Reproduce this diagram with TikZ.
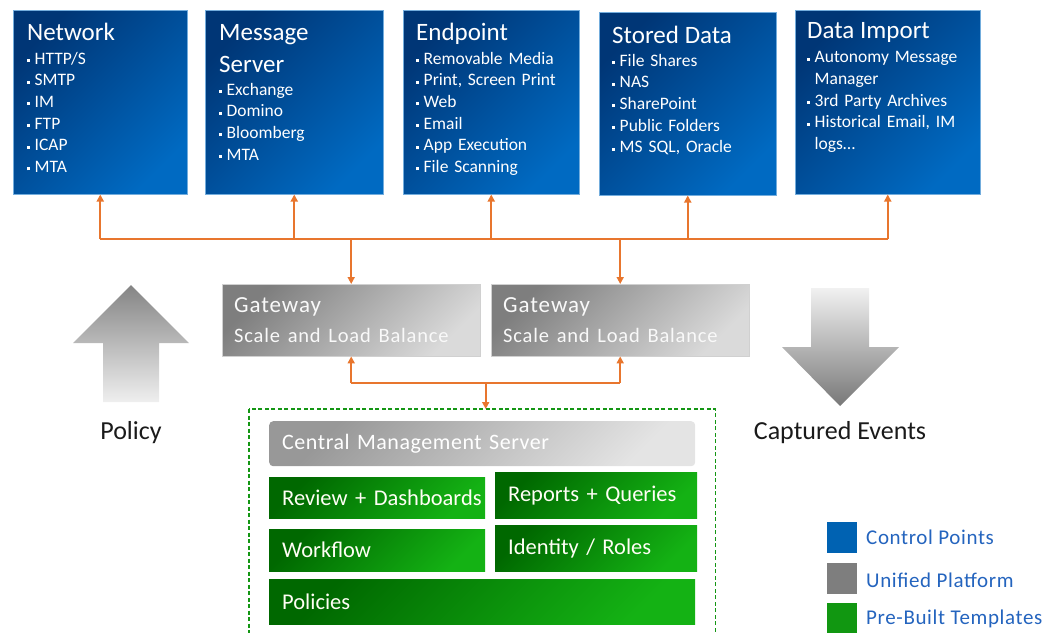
\documentclass[tikz,border=0pt]{standalone}
\usepackage{fontspec}
\setmainfont{Carlito}
\usepackage{tikz}
\usetikzlibrary{arrows.meta,calc,positioning}
\definecolor{cpdark}{RGB}{0,54,118}
\definecolor{cplight}{RGB}{0,106,194}
\definecolor{gydark}{RGB}{126,126,126}
\definecolor{gylight}{RGB}{228,228,228}
\definecolor{grdark}{RGB}{0,104,0}
\definecolor{grlight}{RGB}{20,178,20}
\definecolor{wire}{RGB}{232,118,46}
\definecolor{framegreen}{RGB}{20,150,20}
\definecolor{lgdtext}{RGB}{36,100,190}
\definecolor{captext}{RGB}{26,26,26}
\newcommand{\bul}{\rule[2.2pt]{3pt}{3pt}\hspace{4.5pt}}
\newcommand{\boxtitle}[1]{{\fontsize{25}{25}\selectfont #1}}
\tikzset{
  ctrl/.style={anchor=north west, inner sep=0pt, draw=cplight!55!white, line width=0.5pt,
    top color=cpdark, bottom color=cplight, shading angle=45},
  ctrltext/.style={anchor=base west, inner sep=0pt, text=white, align=left, text width=165pt,
    font=\fontsize{17.5}{21.7}\selectfont},
  gw/.style={anchor=north west, inner xsep=12pt, inner ysep=0pt, text width=234pt, align=left,
    top color=gydark, bottom color=gylight!90!gray, shading angle=45, draw=gylight!80!gray, line width=0.4pt,
    text=white!95!gray, font=\fontsize{23}{30}\selectfont\addfontfeature{LetterSpace=4}},
  cms/.style={anchor=north west, inner xsep=13pt, inner ysep=0pt, text width=400pt, align=left,
    rounded corners=4pt, top color=gydark!80!white, bottom color=gylight, shading angle=45,
    text=white, font=\fontsize{22}{26}\selectfont\addfontfeature{LetterSpace=2.5}},
  tpl/.style={anchor=north west, inner xsep=13pt, inner ysep=0pt, text width=#1, align=left,
    top color=grdark, bottom color=grlight, shading angle=45,
    text=white!96!yellow, font=\fontsize{22.5}{26}\selectfont},
  conn/.style={draw=wire, line width=1.8pt},
  tip/.style={-{Triangle[length=7pt,width=7pt]}},
  captn/.style={text=captext, font=\fontsize{26}{30}\selectfont},
  lgdbox/.style={minimum width=30pt, minimum height=31pt, inner sep=0pt},
  lgdlbl/.style={anchor=west, text=lgdtext, inner sep=0pt, font=\fontsize{21}{24}\selectfont\addfontfeature{LetterSpace=3}}
}
\begin{document}
\begin{tikzpicture}[x=1pt, y=-1pt]
  \useasboundingbox (0,0) rectangle (1051,632);

  % --- control points ---
  \node[ctrl, minimum width=174pt, minimum height=184pt] (net) at (13,10) {};
  \node[ctrltext] (net-t) at ([shift={(14,30)}]net.north west) {\boxtitle{Network}\\[2.3pt]
    \bul HTTP/S\\ \bul SMTP\\ \bul IM\\ \bul FTP\\ \bul ICAP\\ \bul MTA};

  \node[ctrl, minimum width=178pt, minimum height=184pt] (msg) at (205,10) {};
  \node[ctrltext] (msg-t) at ([shift={(14,30)}]msg.north west) {\boxtitle{Message\\[10.3pt] Server}\\[1.3pt]
    \bul Exchange\\ \bul Domino\\ \bul Bloomberg\\ \bul MTA};

  \node[ctrl, minimum width=176pt, minimum height=184pt] (endp) at (403,10) {};
  \node[ctrltext] (endp-t) at ([shift={(13,30)}]endp.north west) {\boxtitle{Endpoint}\\[2.3pt]
    \bul Removable Media\\ \bul Print, Screen Print\\ \bul Web\\ \bul Email\\ \bul App Execution\\ \bul File Scanning};

  \node[ctrl, minimum width=177pt, minimum height=183pt] (stor) at (599,12) {};
  \node[ctrltext] (stor-t) at ([shift={(13,31)}]stor.north west) {\boxtitle{Stored Data}\\[1.3pt]
    \bul File Shares\\ \bul NAS\\ \bul SharePoint\\ \bul Public Folders\\ \bul MS SQL, Oracle};

  \node[ctrl, minimum width=185pt, minimum height=184pt] (imp) at (795,10) {};
  \node[ctrltext] (imp-t) at ([shift={(12,28)}]imp.north west) {\boxtitle{Data Import}\\[3pt]
    \bul Autonomy Message\\ \hspace*{7.5pt}Manager\\ \bul 3rd Party Archives\\ \bul Historical Email, IM\\ \hspace*{7.5pt}logs\dots};

  % --- gateways ---
  \node[gw, minimum width=258pt, minimum height=72pt] (gw1) at (222,284)
    {Gateway\\{\fontsize{20.5}{30}\selectfont Scale and Load Balance}};
  \node[gw, minimum width=258pt, minimum height=72pt] (gw2) at (491,284)
    {Gateway\\{\fontsize{20.5}{30}\selectfont Scale and Load Balance}};

  % --- bus to control points ---
  \coordinate (bus) at (0,239);
  \draw[conn] (net.south |- bus) -- (imp.south |- bus);
  \foreach \b in {net,msg,endp,stor,imp}
    \draw[conn,tip] (\b.south |- bus) -- (\b.south);
  \draw[conn,tip] (gw1.north |- bus) -- (gw1.north);
  \draw[conn,tip] (gw2.north |- bus) -- (gw2.north);

  % --- management server ---
  \node[anchor=north west, inner sep=0pt, minimum width=466pt, minimum height=232pt] (mgmt) at (249,409) {};
  \draw[framegreen, line width=1.5pt, dash pattern=on 4pt off 2.5pt]
    (mgmt.north west) rectangle (mgmt.south east);
  \node[cms, minimum height=45pt] (srv) at (269,421) {Central Management Server};
  \node[tpl=190pt, minimum height=41pt] (rev) at (269,477) {\mbox{Review + Dashboards}};
  \node[tpl=176pt, minimum height=46pt] (rep) at (495,472) {Reports + Queries};
  \node[tpl=190pt, minimum height=42pt] (wf) at (269,529) {Workflow};
  \node[tpl=176pt, minimum height=46pt] (idr) at (495,525) {Identity / Roles};
  \node[tpl=400pt, minimum height=45pt] (pol) at (269,579) {Policies};

  \coordinate (lbus) at (0,383);
  \coordinate (jn) at ($(gw1.south |- lbus)!0.5!(gw2.south |- lbus)$);
  \draw[conn] (gw1.south |- lbus) -- (gw2.south |- lbus);
  \draw[conn,tip] (gw1.south |- lbus) -- (gw1.south);
  \draw[conn,tip] (gw2.south |- lbus) -- (gw2.south);
  \draw[conn,tip] (jn) -- (jn |- mgmt.north);

  % --- big arrows ---
  \shade[top color=gydark!95, bottom color=gylight!60!white]
    (103,402) -- (103,343) -- (73,343) -- (131,285) -- (189,343) -- (159,343) -- (159,402) -- cycle;
  \node[captn] (policy) at (131,433) {Policy};

  \shade[top color=gylight!50!white, bottom color=gydark!95!black]
    (811,288) -- (869,288) -- (869,347) -- (899,347) -- (840,406) -- (782,347) -- (811,347) -- cycle;
  \node[captn] (events) at (840,433) {Captured Events};

  % --- legend ---
  \node[lgdbox, fill=cplight!92!black] (lg-cp) at (842,537) {};
  \node[lgdlbl] (lg-cp-t) at (866,537) {Control Points};
  \node[lgdbox, fill=gydark] (lg-up) at (842,578) {};
  \node[lgdlbl] (lg-up-t) at (866,580) {Unified Platform};
  \node[lgdbox, fill=grlight!85!black] (lg-pt) at (842,618) {};
  \node[lgdlbl] (lg-pt-t) at (866,619) {Pre-Built Templates};
\end{tikzpicture}
\end{document}
